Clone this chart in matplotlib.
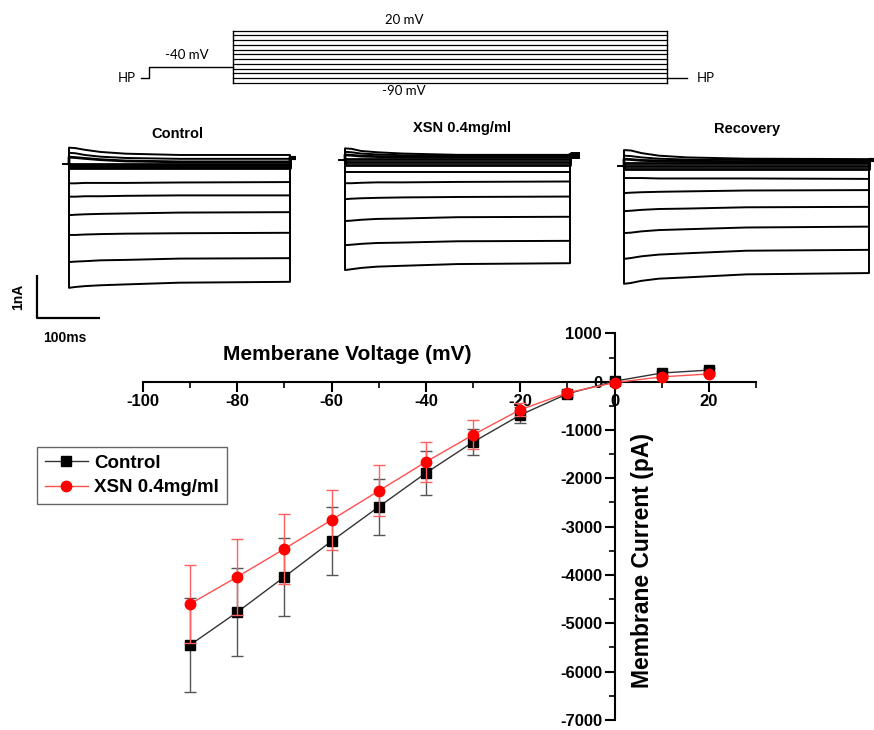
import numpy as np
import matplotlib.pyplot as plt
from matplotlib.ticker import MultipleLocator
from matplotlib.lines import Line2D

plt.rcParams['font.family'] = ['Liberation Sans', 'DejaVu Sans']
plt.rcParams['axes.unicode_minus'] = False

# ---- I-V data (pA) ----
voltages = [-90, -80, -70, -60, -50, -40, -30, -20, -10, 0, 10, 20]
control_mean = [-5450, -4770, -4040, -3300, -2590, -1890, -1250, -690, -250, 10, 180, 240]
control_sem = [980, 910, 810, 700, 580, 450, 270, 160, 60, 40, 40, 40]
xsn_mean = [-4600, -4040, -3460, -2860, -2260, -1660, -1100, -580, -230, -20, 100, 160]
xsn_sem = [800, 780, 720, 620, 530, 410, 300, 140, 50, 30, 30, 30]

# ---- voltage protocol (mV, ms) ----
step_levels = [-90, -80, -70, -60, -50, -40, -30, -20, -10, 0, 10, 20]
hold_level = -80       # drawn level of HP
pre_level = -56        # drawn level of the -40 mV prepulse
step_dur = 350

# ---- current traces (nA), sampled at these times (ms) ----
trace_t = [0, 10, 25, 50, 90, 175, 350]
ctrl_traces = [
    [0.38, 0.37, 0.33, 0.28, 0.24, 0.21, 0.21],
    [0.26, 0.25, 0.21, 0.17, 0.14, 0.12, 0.12],
    [0.16, 0.15, 0.13, 0.10, 0.07, 0.05, 0.05],
    [0.01, 0.01, 0.01, 0.01, 0.01, 0.01, 0.01],
    [-0.05, -0.05, -0.05, -0.05, -0.05, -0.05, -0.05],
    [-0.10, -0.10, -0.10, -0.10, -0.10, -0.10, -0.10],
    [-0.45, -0.45, -0.44, -0.44, -0.44, -0.43, -0.42],
    [-0.76, -0.76, -0.75, -0.75, -0.74, -0.73, -0.73],
    [-1.19, -1.18, -1.17, -1.16, -1.15, -1.13, -1.12],
    [-1.65, -1.65, -1.64, -1.63, -1.62, -1.61, -1.60],
    [-2.28, -2.27, -2.26, -2.24, -2.23, -2.20, -2.19],
    [-2.88, -2.86, -2.84, -2.82, -2.80, -2.76, -2.74],
]
xsn_traces = [
    [0.27, 0.26, 0.21, 0.18, 0.15, 0.12, 0.12],
    [0.19, 0.18, 0.15, 0.13, 0.11, 0.10, 0.10],
    [0.12, 0.11, 0.09, 0.08, 0.07, 0.07, 0.07],
    [0.02, 0.02, 0.02, 0.02, 0.02, 0.02, 0.02],
    [-0.05, -0.05, -0.05, -0.05, -0.05, -0.05, -0.05],
    [-0.12, -0.12, -0.12, -0.12, -0.12, -0.12, -0.12],
    [-0.28, -0.28, -0.28, -0.28, -0.28, -0.28, -0.28],
    [-0.54, -0.54, -0.53, -0.52, -0.52, -0.51, -0.50],
    [-0.91, -0.90, -0.89, -0.88, -0.87, -0.86, -0.85],
    [-1.42, -1.41, -1.39, -1.37, -1.36, -1.33, -1.32],
    [-1.98, -1.97, -1.95, -1.93, -1.92, -1.89, -1.88],
    [-2.56, -2.54, -2.51, -2.48, -2.46, -2.42, -2.40],
]
rec_traces = [
    [0.37, 0.36, 0.30, 0.24, 0.20, 0.17, 0.16],
    [0.24, 0.23, 0.20, 0.17, 0.15, 0.14, 0.14],
    [0.16, 0.15, 0.13, 0.12, 0.11, 0.10, 0.10],
    [0.07, 0.07, 0.07, 0.07, 0.07, 0.07, 0.07],
    [0.0, 0.0, 0.0, 0.0, 0.0, 0.0, 0.0],
    [-0.07, -0.07, -0.07, -0.07, -0.07, -0.07, -0.07],
    [-0.28, -0.28, -0.28, -0.29, -0.29, -0.29, -0.30],
    [-0.63, -0.62, -0.61, -0.60, -0.59, -0.57, -0.56],
    [-1.05, -1.04, -1.02, -1.00, -0.99, -0.96, -0.95],
    [-1.56, -1.55, -1.52, -1.49, -1.47, -1.43, -1.41],
    [-2.16, -2.14, -2.10, -2.06, -2.03, -1.97, -1.95],
    [-2.74, -2.72, -2.67, -2.62, -2.59, -2.52, -2.49],
]
panel_titles = ['Control', 'XSN 0.4mg/ml', 'Recovery']
tail_levels = [0.14, 0.12, 0.14]
tail_lens = [10, 31, 12]

W, H = 874, 730
fig = plt.figure(figsize=(W / 100, H / 100), dpi=100)


def px_axes(x0, y0, x1, y1):
    return fig.add_axes([x0 / W, 1 - y1 / H, (x1 - x0) / W, (y1 - y0) / H])


# ---------------- protocol ----------------
ms_px = 434 / step_dur
mv_px = 52 / 110
ax_p = px_axes(233 - 100 * ms_px, 30.7 - 20 * mv_px, 233 + 390 * ms_px, 30.7 + 130 * mv_px)
ax_p.set_xlim(-100, 390)
ax_p.set_ylim(-110, 40)
ax_p.axis('off')
for v in step_levels:
    ax_p.plot([0, step_dur], [v, v], color='k', lw=0.9)
ax_p.plot([0, 0], [min(step_levels), max(step_levels)], color='k', lw=1.0)
ax_p.plot([step_dur, step_dur], [min(step_levels), max(step_levels)], color='k', lw=1.0)
ax_p.plot([-74, -68, -68, 0], [hold_level, hold_level, pre_level, pre_level], color='k', lw=1.0)
ax_p.plot([step_dur, step_dur + 16], [hold_level, hold_level], color='k', lw=1.0)
pfont = dict(family=['Lato', 'DejaVu Sans'], fontsize=9.5, va='center', ha='center')
ax_p.text(138, 42.5, '20 mV', **pfont)
ax_p.text(-37, -31, '-40 mV', **pfont)
ax_p.text(138, -107, '-90 mV', **pfont)
ax_p.text(-86, hold_level, 'HP', **pfont)
ax_p.text(381, hold_level, 'HP', **pfont)

# ---------------- traces ----------------
panels = [(69, 164, 221 / step_dur), (345, 160, 225 / step_dur), (624, 166, 245 / step_dur)]
nA_px = 43
all_traces = [ctrl_traces, xsn_traces, rec_traces]
title_x = [177, 462, 747]
title_y = [134, 128, 129]
for i, (t0, h0, k) in enumerate(panels):
    ax = px_axes(t0 - 15 * k, h0 - 0.7 * nA_px, t0 + 365 * k, h0 + 3.3 * nA_px)
    ax.set_xlim(-15, 365)
    ax.set_ylim(-3.3, 0.7)
    ax.axis('off')
    for j, tr in enumerate(all_traces[i]):
        xs = [0] + trace_t + [step_dur]
        ys = [0] + tr + [tail_levels[i]]
        # traces near the holding level are noisy and merge into a thick band
        ax.plot(xs, ys, color='k', lw=2.0 if 2 <= j <= 5 else 1.4)
    ax.plot([-9, 0], [0, 0], color='k', lw=1.4)
    ax.plot([step_dur, step_dur + tail_lens[i]], [tail_levels[i]] * 2, color='k',
            lw=3 if i != 1 else 5, solid_capstyle='butt')
    fig.text(title_x[i] / W, 1 - title_y[i] / H, panel_titles[i], ha='center', va='center',
             fontsize=10.5, fontweight='bold')
    if i == 0:
        # scale bar 100 ms / 1 nA
        sx, sy = -51, -3.58
        ax.plot([sx, sx, sx + 100], [sy + 1, sy, sy], color='k', lw=1.6, clip_on=False,
                solid_capstyle='butt')
        ax.text(sx - 30, sy + 0.5, '1nA', rotation=90, ha='center', va='center',
                fontsize=10, fontweight='bold')
        ax.text(sx + 45, sy - 0.47, '100ms', ha='center', va='center',
                fontsize=10, fontweight='bold')

# ---------------- I-V plot ----------------
ax = px_axes(143, 333.4, 756, 719.8)
ax.set_xlim(-100, 30)
ax.set_ylim(-7000, 1000)
ax.patch.set_alpha(0)
for s in ['top', 'right']:
    ax.spines[s].set_visible(False)
ax.spines['left'].set_position(('data', 0))
ax.spines['bottom'].set_position(('data', 0))
ax.spines['left'].set_linewidth(1.5)
ax.spines['bottom'].set_linewidth(1.5)
ax.xaxis.set_major_locator(MultipleLocator(20))
ax.xaxis.set_minor_locator(MultipleLocator(10))
ax.yaxis.set_major_locator(MultipleLocator(1000))
ax.yaxis.set_minor_locator(MultipleLocator(500))
ax.tick_params(axis='x', which='major', direction='out', length=7, width=1.5, pad=2)
ax.tick_params(axis='x', which='minor', direction='out', length=4, width=1.2)
ax.tick_params(axis='y', which='major', direction='out', length=7, width=1.5, pad=2)
ax.tick_params(axis='y', which='minor', direction='out', length=4, width=1.2)
for lab in ax.get_xticklabels() + ax.get_yticklabels():
    lab.set_fontsize(12)
    lab.set_fontweight('bold')

ax.errorbar(voltages, control_mean, yerr=control_sem, color='#333333', lw=1.0,
            ecolor='#555555', elinewidth=1.0, capsize=4, capthick=1.0,
            marker='s', ms=6.5, mfc='k', mec='k', zorder=3, clip_on=False)
ax.errorbar(voltages, xsn_mean, yerr=xsn_sem, color='#ff5050', lw=1.0,
            ecolor='#ff6060', elinewidth=1.0, capsize=4, capthick=1.0,
            marker='o', ms=7.5, mfc='#ff0000', mec='#ff0000', zorder=4, clip_on=False)

fig.text(347 / W, 1 - 355 / H, 'Memberane Voltage (mV)', ha='center', va='center',
         fontsize=15, fontweight='bold')
fig.text(643 / W, 1 - 560 / H, 'Membrane Current (pA)', ha='center', va='center',
         rotation=90, fontsize=16.5, fontweight='bold')

handles = [Line2D([], [], color='#333333', lw=1.0, marker='s', ms=6.5, mfc='k', mec='k'),
           Line2D([], [], color='#ff5050', lw=1.0, marker='o', ms=7.5, mfc='#ff0000', mec='#ff0000')]
leg = ax.legend(handles, ['Control', 'XSN 0.4mg/ml'], loc='upper left',
                bbox_to_anchor=(37 / W, 1 - 447 / H), bbox_transform=fig.transFigure,
                prop=dict(size=13.5, weight='bold'), fancybox=False, edgecolor='#666666',
                borderpad=0.4, handlelength=2.3, handletextpad=0.35, labelspacing=0.4,
                borderaxespad=0, framealpha=1)
leg.get_frame().set_linewidth(1.0)

fig.savefig('out.png', dpi=100)
